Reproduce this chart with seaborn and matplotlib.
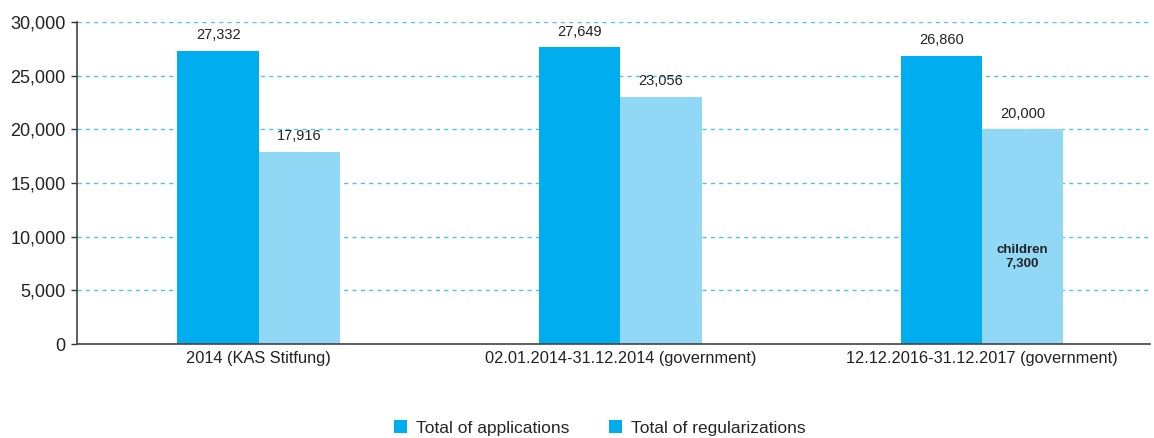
import pandas as pd
import seaborn as sns
import matplotlib.pyplot as plt
from matplotlib.patches import Patch

# data
periods = ['2014 (KAS Stitfung)', '02.01.2014-31.12.2014 (government)', '12.12.2016-31.12.2017 (government)']
applications = [27332, 27649, 26860]
regularizations = [17916, 23056, 20000]
series_names = ['Total of applications', 'Total of regularizations']
children_value = 7300

df = pd.DataFrame({
    'period': periods * 2,
    'series': [series_names[0]] * 3 + [series_names[1]] * 3,
    'value': applications + regularizations,
})

sns.set_theme(style='white')
plt.rcParams['font.family'] = ['Liberation Sans', 'DejaVu Sans']

dark_blue = '#00AEEF'
light_blue = '#91D8F6'
grid_blue = '#4CC3EE'

fig = plt.figure(figsize=(11.54, 4.38), dpi=100)
ax = fig.add_axes([0.0667, 0.2146, 0.9298, 0.7352])

sns.barplot(data=df, x='period', y='value', hue='series',
            palette=[dark_blue, light_blue], width=0.45, linewidth=0,
            saturation=1, ax=ax, legend=False)

ax.set_xlim(-0.503, 2.465)
ax.set_ylim(0, 30000)
ax.set_yticks(range(0, 30001, 5000))
ax.set_yticklabels([f'{v:,}' for v in range(0, 30001, 5000)], fontsize=13, color='#222222')
ax.tick_params(axis='x', labelsize=11.8, colors='#222222', length=0, pad=5)
ax.tick_params(axis='y', left=True, length=4, width=1, color='#333333', pad=4)
ax.set_xlabel('')
ax.set_ylabel('')

ax.yaxis.grid(True, linestyle=(0, (3, 3)), color=grid_blue, linewidth=1)
ax.set_axisbelow(True)
sns.despine(ax=ax, top=True, right=True)
for side in ['left', 'bottom']:
    ax.spines[side].set_color('#444444')
    ax.spines[side].set_linewidth(1.2)

# value labels
for cont in ax.containers:
    ax.bar_label(cont, labels=[f'{int(v):,}' for v in cont.datavalues],
                 padding=6, fontsize=10.5, color='#222222')

ax.text(2 + 0.1125, 8100, f'children\n{children_value:,}', ha='center', va='center',
        fontsize=9.5, fontweight='bold', color='#222222', linespacing=1.3)

handles = [Patch(facecolor=dark_blue, edgecolor='none') for _ in series_names]
fig.legend(handles, series_names, loc='lower center', bbox_to_anchor=(0.52, -0.03),
           ncol=2, frameon=False, fontsize=12.5, handlelength=0.75, handleheight=0.75,
           handletextpad=0.5, columnspacing=2.3)

fig.savefig('out.png', dpi=100)
